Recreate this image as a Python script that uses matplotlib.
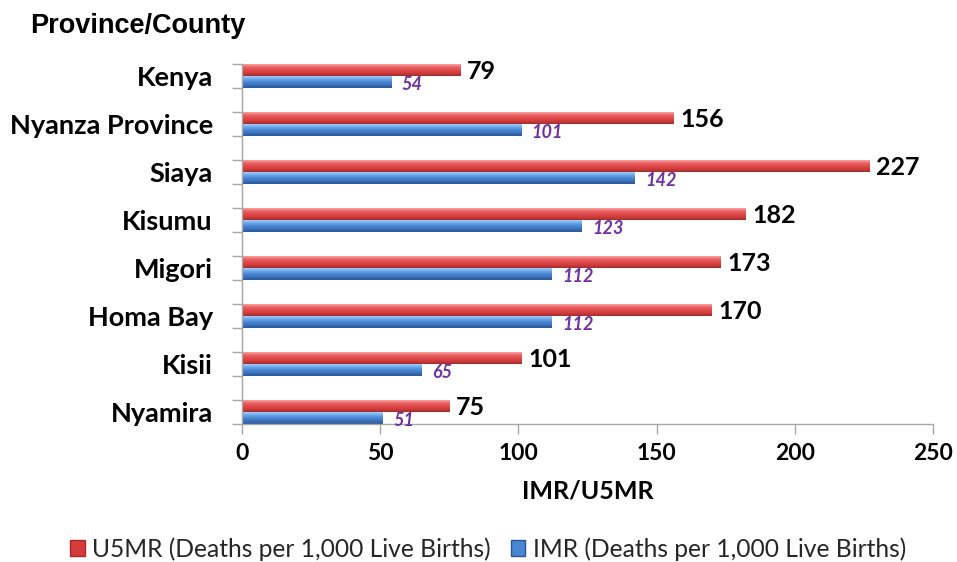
import matplotlib
matplotlib.use("Agg")
import matplotlib.pyplot as plt
import numpy as np
from matplotlib.patches import Patch
from matplotlib.colors import LinearSegmentedColormap

categories = ["Kenya", "Nyanza Province", "Siaya", "Kisumu", "Migori", "Homa Bay", "Kisii", "Nyamira"]
u5mr = [79, 156, 227, 182, 173, 170, 101, 75]
imr = [54, 101, 142, 123, 112, 112, 65, 51]
xticks = [0, 50, 100, 150, 200, 250]
legend_labels = ["U5MR (Deaths per 1,000 Live Births)", "IMR (Deaths per 1,000 Live Births)"]

W, H = 957, 562
fig = plt.figure(figsize=(W / 100, H / 100), dpi=100)
ax = fig.add_axes([242 / W, 138 / H, 691 / W, 360 / H])

red_cmap = LinearSegmentedColormap.from_list("r", ["#f7a3a3", "#ec6363", "#de4a4a", "#cf3d3d", "#a52c2c"])
blue_cmap = LinearSegmentedColormap.from_list("b", ["#a8d0f8", "#6aa6ea", "#4a86d2", "#3b72bd", "#2a5590"])
grad = np.linspace(0, 1, 64).reshape(-1, 1)

bh = 0.25
for i, (r, b) in enumerate(zip(u5mr, imr)):
    yr = i - bh / 2
    yb = i + bh / 2
    ax.imshow(grad, cmap=red_cmap, extent=(0, r, yr + bh / 2, yr - bh / 2), aspect="auto", zorder=2)
    ax.imshow(grad, cmap=blue_cmap, extent=(0, b, yb + bh / 2, yb - bh / 2), aspect="auto", zorder=2)
    ax.annotate(str(r), xy=(r, yr), xytext=(5, -1), textcoords="offset points",
                ha="left", va="center", fontsize=18, fontweight="bold", family="Lato", color="black")
    ax.annotate(str(b), xy=(b, yb), xytext=(7.5, -1.5), textcoords="offset points",
                ha="left", va="center", fontsize=13, fontweight="bold", style="italic",
                family="Lato", color="#7030a0")

ax.set_xlim(0, 250)
ax.set_ylim(len(categories) - 0.75, -0.25)

ax.set_xticks(xticks)
ax.set_xticklabels([str(t) for t in xticks], fontsize=16.5, fontweight="bold", family="Lato")
ax.set_yticks(range(len(categories)))
ax.set_yticklabels(categories, fontsize=19.5, fontweight="bold", family="Lato")
ax.set_yticks(np.arange(-0.25, len(categories) - 0.5, 0.5), minor=True)
ax.tick_params(axis="y", which="major", length=0, pad=21)
ax.tick_params(axis="y", which="minor", length=7, color="#a6a6a6", width=1)
ax.tick_params(axis="x", which="major", length=7, color="#a6a6a6", width=1, pad=7)

for s in ["top", "right"]:
    ax.spines[s].set_visible(False)
for s in ["left", "bottom"]:
    ax.spines[s].set_color("#a6a6a6")
    ax.spines[s].set_linewidth(1)

ax.set_xlabel("IMR/U5MR", fontsize=18, fontweight="bold", family="Lato", labelpad=11)

fig.text(30 / W, 1 - 26 / H, "Province/County", fontsize=19.5, fontweight="bold",
         family="Liberation Sans", ha="left", va="center")

handles = [Patch(facecolor="#d63c3c", edgecolor="#a52c2c"), Patch(facecolor="#4a86d2", edgecolor="#2a5590")]
fig.legend(handles, legend_labels, loc="center", bbox_to_anchor=(488 / W, 1 - 549 / H), ncol=2,
           frameon=False, prop={"family": "Lato", "size": 17.7}, handlelength=0.6, handleheight=0.6,
           handletextpad=0.3, columnspacing=0.8, labelcolor="#262626")

fig.savefig("out.png", dpi=100)
